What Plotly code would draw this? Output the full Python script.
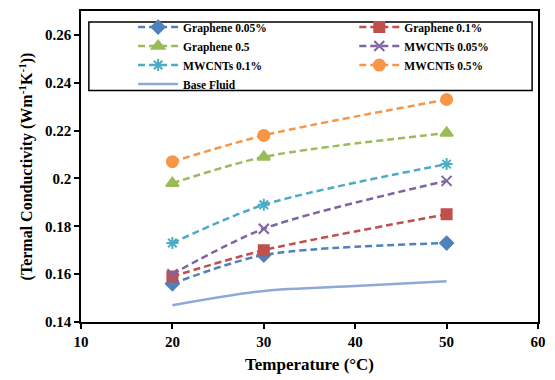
import plotly.graph_objects as go

# Temperatures (°C) and thermal conductivity (W/m·K) of each nanofluid
temperature = [20, 30, 50]
graphene_005 = [0.156, 0.168, 0.173]
graphene_01 = [0.159, 0.170, 0.185]
graphene_05 = [0.198, 0.209, 0.219]
mwcnt_005 = [0.160, 0.179, 0.199]
mwcnt_01 = [0.173, 0.189, 0.206]
mwcnt_05 = [0.207, 0.218, 0.233]

base_temperature = [20, 30, 40, 50]
base_fluid = [0.147, 0.153, 0.155, 0.157]

x_ticks = [10, 20, 30, 40, 50, 60]
y_ticks = [0.14, 0.16, 0.18, 0.20, 0.22, 0.24, 0.26]
y_tick_text = ["0.14", "0.16", "0.18", "0.2", "0.22", "0.24", "0.26"]

FONT = "Liberation Serif"

# name, values, colour, marker symbol, marker size, legend column
series = [
    ("Graphene 0.05%", graphene_005, "#4F81BD", "diamond", 10, "legend"),
    ("Graphene 0.1%", graphene_01, "#C0504D", "square", 10, "legend2"),
    ("Graphene 0.5", graphene_05, "#9BBB59", "triangle-up", 11, "legend"),
    ("MWCNTs 0.05%", mwcnt_005, "#8064A2", "x-thin-open", 10, "legend2"),
    ("MWCNTs 0.1%", mwcnt_01, "#4BACC6", "asterisk-open", 10, "legend"),
    ("MWCNTs 0.5%", mwcnt_05, "#F79646", "circle", 11, "legend2"),
]

fig = go.Figure()
for name, values, color, symbol, size, leg in series:
    fig.add_trace(go.Scatter(
        x=temperature, y=values, name=name, mode="lines+markers", legend=leg,
        line=dict(color=color, width=2.5, dash="7px,4px", shape="spline", smoothing=0.8),
        marker=dict(symbol=symbol, size=size, color=color,
                    line=dict(color=color, width=2)),
    ))

fig.add_trace(go.Scatter(
    x=base_temperature, y=base_fluid, name="Base Fluid", mode="lines", legend="legend",
    line=dict(color="#8EA9D8", width=2.5, shape="spline", smoothing=0.8),
))

axis_common = dict(
    showline=True, linecolor="black", linewidth=1.5, mirror=True,
    ticks="outside", ticklen=5, tickcolor="black", tickwidth=1.5,
    showgrid=False, zeroline=False,
    tickfont=dict(family=FONT, size=15, color="black", weight="bold"),
)

legend_common = dict(
    orientation="v", yanchor="top", xanchor="left",
    font=dict(family=FONT, size=11.5, color="black", weight="bold"),
    bgcolor="rgba(0,0,0,0)", borderwidth=0, tracegroupgap=0, itemwidth=40,
)

fig.update_layout(
    width=555, height=380,
    margin=dict(l=81, r=9, t=10, b=57),
    paper_bgcolor="white", plot_bgcolor="white",
    font=dict(family=FONT, color="black"),
    xaxis=dict(
        range=[10, 60], tickvals=x_ticks,
        title=dict(text="Temperature (°C)", standoff=9,
                   font=dict(family=FONT, size=17, color="black", weight="bold")),
        **axis_common,
    ),
    yaxis=dict(
        range=[0.14, 0.27], tickvals=y_ticks, ticktext=y_tick_text,
        title=dict(text="(Termal Conductivity (Wm<sup>-1</sup>K<sup>-1</sup>))", standoff=8,
                   font=dict(family=FONT, size=16, color="black", weight="bold")),
        **axis_common,
    ),
    legend=dict(x=0.114, y=0.995, **legend_common),
    legend2=dict(x=0.598, y=0.995, **legend_common),
    shapes=[dict(
        type="rect", xref="paper", yref="paper",
        x0=(89 - 81) / 465, x1=(540 - 81) / 465,
        y0=(323 - 90) / 313, y1=(323 - 21) / 313,
        line=dict(color="black", width=1.5), fillcolor="rgba(0,0,0,0)",
    )],
)

fig.write_html("out.html")
